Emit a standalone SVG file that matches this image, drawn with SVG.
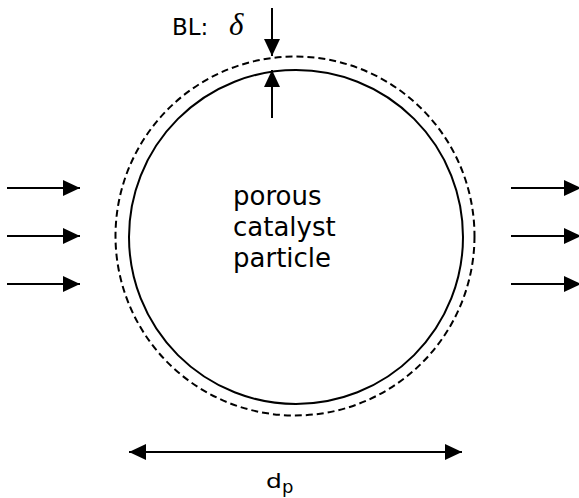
<svg xmlns="http://www.w3.org/2000/svg" width="579" height="498" viewBox="0 0 579 498">
<style>
.ln{stroke:#000;stroke-width:2;fill:none}
.arr{marker-end:url(#ah)}
.sans{font-family:"DejaVu Sans","Verdana",sans-serif;fill:#000}
</style>
<defs>
<marker id="ah" markerUnits="userSpaceOnUse" markerWidth="18" markerHeight="16" refX="17" refY="8" orient="auto">
<path d="M0,0 L17,8 L0,16 Z" fill="#000"/>
</marker>
<marker id="as" markerUnits="userSpaceOnUse" markerWidth="18" markerHeight="16" refX="1" refY="8" orient="auto">
<path d="M18,0 L1,8 L18,16 Z" fill="#000"/>
</marker>
</defs>
<rect width="579" height="498" fill="#fff"/>
<g id="particle">
<circle class="ln" cx="296" cy="237" r="167"/>
<text class="sans" font-size="26" x="233"><tspan x="233" y="205">porous</tspan><tspan x="233" y="236">catalyst</tspan><tspan x="233" y="267">particle</tspan></text>
</g>
<g id="boundary-layer">
<circle class="ln" cx="295" cy="236" r="179.5" stroke-dasharray="7,4"/>
<text class="sans" font-size="23" x="172" y="35">BL:</text>
<text x="229" y="35" font-family="Liberation Serif,serif" font-style="italic" font-size="31">δ</text>
</g>
<g id="dp-label">
<text class="sans" font-size="20" transform="translate(266,488) scale(1.25,1)">d</text>
<text class="sans" font-size="18" x="282" y="493">p</text>
</g>
<g id="connectors">
<line class="ln arr" x1="272" y1="8" x2="272" y2="56"/>
<line class="ln arr" x1="272" y1="118" x2="272" y2="70"/>
<line class="ln arr" x1="7" y1="188" x2="80" y2="188"/>
<line class="ln arr" x1="7" y1="236" x2="80" y2="236"/>
<line class="ln arr" x1="7" y1="284" x2="80" y2="284"/>
<line class="ln arr" x1="511" y1="188" x2="581" y2="188"/>
<line class="ln arr" x1="511" y1="236" x2="581" y2="236"/>
<line class="ln arr" x1="511" y1="284" x2="581" y2="284"/>
<line class="ln" x1="129" y1="452" x2="462" y2="452" marker-start="url(#as)" marker-end="url(#ah)"/>
</g>
</svg>
